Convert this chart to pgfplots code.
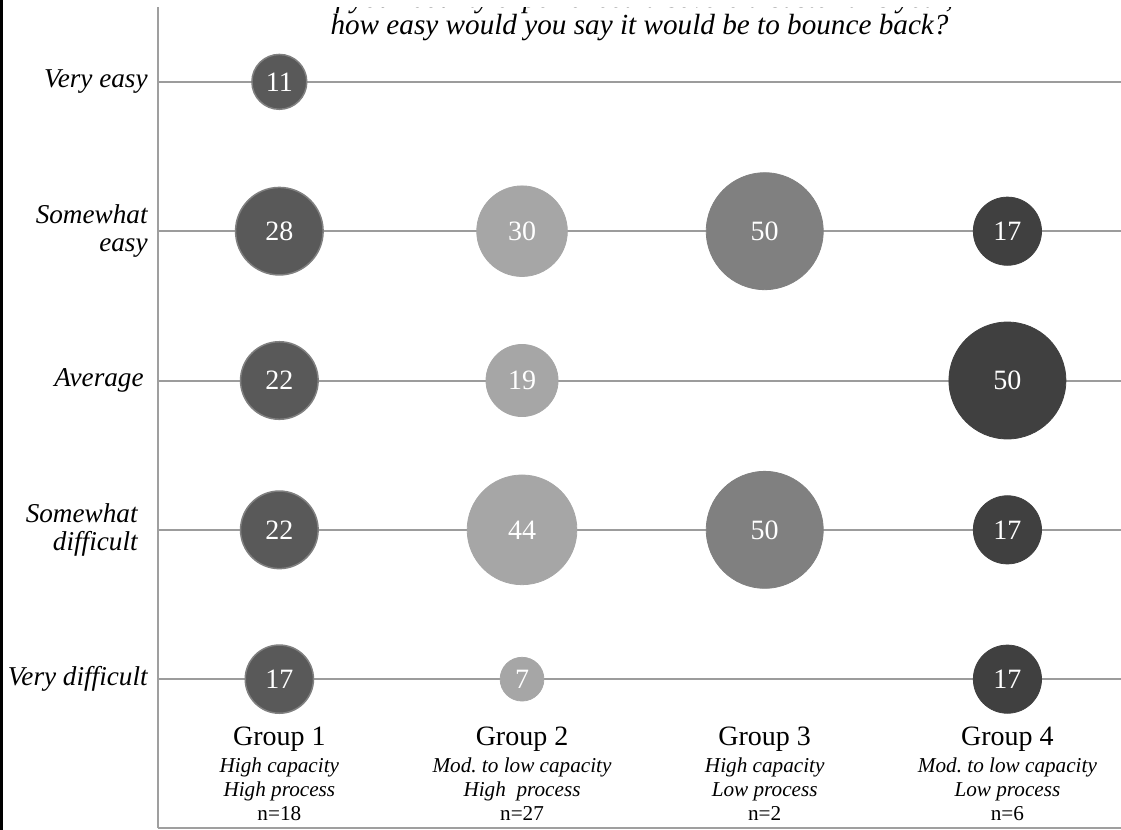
\documentclass[border=0pt]{standalone}
\usepackage{fontspec}
\setmainfont{Liberation Serif}
\usepackage{pgfplots}
\pgfplotsset{compat=1.18}

\definecolor{gOne}{HTML}{595959}
\definecolor{gOneEdge}{HTML}{808080}
\definecolor{gTwo}{HTML}{A6A6A6}
\definecolor{gThree}{HTML}{808080}
\definecolor{gFour}{HTML}{404040}
\definecolor{rule}{HTML}{9C9C9C}

% x = group, y = answer (1 = very difficult ... 5 = very easy), v = percent
\pgfplotstableread{
x y v
1 5 11
1 4 28
1 3 22
1 2 22
1 1 17
}\groupone
\pgfplotstableread{
x y v
2 4 30
2 3 19
2 2 44
2 1 7
}\grouptwo
\pgfplotstableread{
x y v
3 4 50
3 2 50
}\groupthree
\pgfplotstableread{
x y v
4 4 17
4 3 50
4 2 17
4 1 17
}\groupfour

% bubble area proportional to the percentage
\pgfplotsset{
  bubble/.style n args={2}{
    scatter, only marks, mark=*,
    point meta=explicit,
    visualization depends on={4.135*sqrt(\thisrow{v}) \as \bubblerad},
    scatter/@pre marker code/.code={\scope[mark size=\bubblerad, draw=#1, fill=#2]},
    scatter/@post marker code/.code={\endscope},
  },
  bubblelabel/.style={
    only marks, mark=none,
    point meta=explicit,
    nodes near coords,
    nodes near coords align=center,
    every node near coord/.append style={text=white, inner sep=0pt,
      font=\fontsize{14}{14}\selectfont},
  },
}

\begin{document}
\begin{tikzpicture}
\begin{axis}[
    at={(0,0)}, anchor=south west,
    scale only axis,
    width=481.5pt, height=410.65pt,
    xmin=0.5, xmax=4.468,
    ymin=0, ymax=5.5,
    enlargelimits=false,
    axis x line=bottom, axis y line=left,
    axis line style={-, draw=gray!75, line width=1pt},
    major tick length=0pt,
    ymajorgrids,
    grid style={draw=rule, line width=1pt},
    /pgf/number format/assume math mode=true,
    ytick={1,2,3,4,5},
    yticklabels={Very difficult,{Somewhat\kern5pt\\difficult\kern5pt},Average\kern2pt,{Somewhat\\easy},Very easy},
    yticklabel style={anchor=east, align=right, inner sep=0pt, xshift=-5pt,
      font=\fontsize{13.6}{14}\selectfont\itshape},
    xtick={1,2,3,4},
    xticklabels={
      {{\fontsize{14}{14}\selectfont Group 1}\\[1.3pt]\textit{High capacity}\\\textit{High process}\\n=18},
      {{\fontsize{14}{14}\selectfont Group 2}\\[1.3pt]\textit{Mod.\ to low capacity}\\\textit{High~ process}\\n=27},
      {{\fontsize{14}{14}\selectfont Group 3}\\[1.3pt]\textit{High capacity}\\\textit{Low process}\\n=2},
      {{\fontsize{14}{14}\selectfont Group 4}\\[1.3pt]\textit{Mod.\ to low capacity}\\\textit{Low process}\\n=6}},
    xticklabel style={anchor=south, align=center, inner sep=0pt, yshift=3.8pt,
      font=\fontsize{10.6}{12}\selectfont},
]
\addplot[bubble={gOneEdge}{gOne}, line width=0.75pt] table[meta=v] {\groupone};
\addplot[bubble={gTwo}{gTwo}] table[meta=v] {\grouptwo};
\addplot[bubble={gThree}{gThree}] table[meta=v] {\groupthree};
\addplot[bubble={gFour}{gFour}] table[meta=v] {\groupfour};

\addplot[bubblelabel] table[meta=v] {\groupone};
\addplot[bubblelabel] table[meta=v] {\grouptwo};
\addplot[bubblelabel] table[meta=v] {\groupthree};
\addplot[bubblelabel] table[meta=v] {\groupfour};

\node[anchor=base, inner sep=0pt, font=\fontsize{14.6}{14}\selectfont\itshape]
  at (rel axis cs:0.5,1) [yshift=-0.3pt] {If your county experienced a severe disaster this year,};
\node[anchor=base, inner sep=0pt, font=\fontsize{14.6}{14}\selectfont\itshape]
  at (rel axis cs:0.5,1) [yshift=-13.6pt] {how easy would you say it would be to bounce back?};
\end{axis}
\draw[black, line width=1.5pt] (-78.25pt,-0.75pt) -- (-78.25pt,414.25pt);
\pgfresetboundingbox
\useasboundingbox (-79pt,-0.75pt) rectangle (481.5pt,414.25pt);
\end{tikzpicture}
\end{document}
